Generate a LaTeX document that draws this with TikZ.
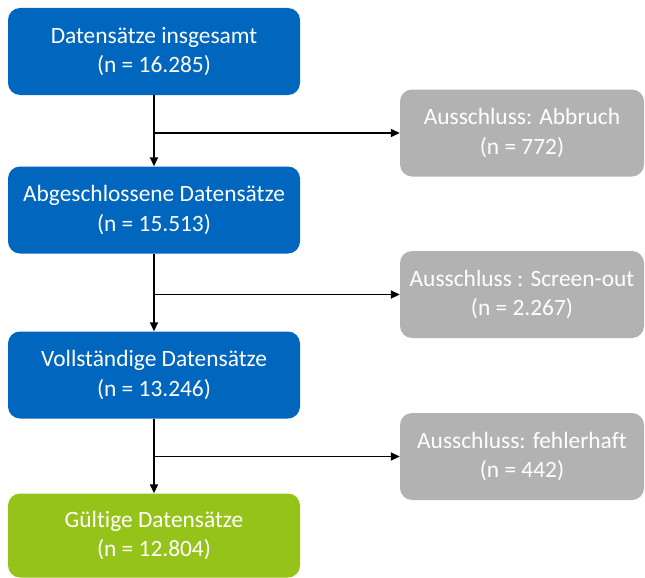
\documentclass[tikz,border=0pt]{standalone}
\usepackage{fontspec}
\setmainfont[Ligatures=NoCommon]{Carlito}
\usetikzlibrary{arrows.meta, positioning, calc}

\definecolor{setblue}{RGB}{0,102,190}
\definecolor{setgreen}{RGB}{150,195,25}
\definecolor{dropgray}{RGB}{178,178,178}

\begin{document}
\begin{tikzpicture}[x=1pt, y=-1pt,
  every node/.style={font=\fontsize{23.4}{29.5}\selectfont, text=white, align=center},
  setbox/.style={rectangle, rounded corners=12pt, inner sep=0pt, minimum width=292pt, minimum height=87pt, fill=setblue},
  validbox/.style={setbox, fill=setgreen, minimum height=84pt},
  dropbox/.style={rectangle, rounded corners=12pt, inner sep=0pt, minimum width=244pt, minimum height=87pt, fill=dropgray},
  flow/.style={line width=1.8pt, draw=black, -{Triangle[length=9pt,width=8pt]}}]
\useasboundingbox (0,0) rectangle (645,578);

% Datensaetze
\node[setbox] (total) at (154,51.5) {Datensätze insgesamt\\(n = 16.285)};
\node[setbox] (done) at (154,210) {Abgeschlossene Datensätze\\(n = 15.513)};
\node[setbox] (complete) at (154,375) {Vollständige Datensätze\\(n = 13.246)};
\node[validbox] (valid) at (154,535.5) {Gültige Datensätze\\(n = 12.804)};

% Ausschluesse
\node[dropbox] (abbruch) at (522,133) {Ausschluss: Abbruch\\(n = 772)};
\node[dropbox] (screen) at (522,294.5) {Ausschluss : Screen-out\\(n = 2.267)};
\node[dropbox] (error) at (522,456.5) {Ausschluss: fehlerhaft\\(n = 442)};

% Verzweigungen
\coordinate (b1) at (total.south |- abbruch.west);
\coordinate (b2) at (done.south |- screen.west);
\coordinate (b3) at (complete.south |- error.west);

\draw[flow] (total) -- (done);
\draw[flow] (done) -- (complete);
\draw[flow] (complete) -- (valid);

\draw[flow] (b1) -- (abbruch);
\draw[flow] (b2) -- (screen);
\draw[flow] (b3) -- (error);
\end{tikzpicture}
\end{document}
